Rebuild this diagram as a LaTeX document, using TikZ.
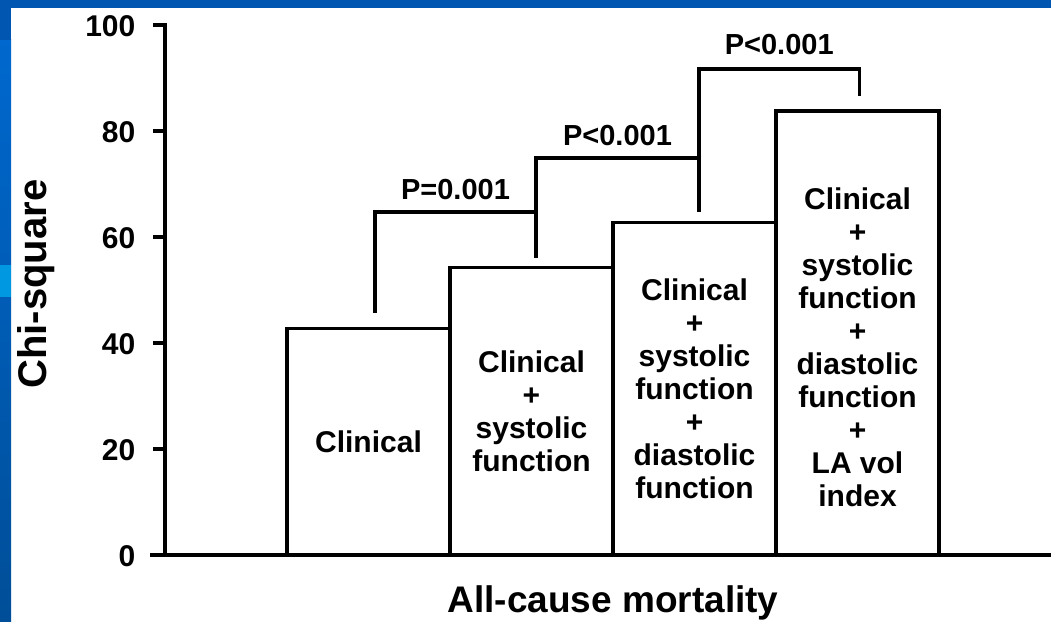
\documentclass[tikz,border=0pt]{standalone}
\usepackage{fontspec}
\setmainfont{Liberation Sans}

\definecolor{slideblue}{RGB}{0,86,176}
\definecolor{leftblue}{RGB}{0,104,206}
\definecolor{leftbluedark}{RGB}{0,78,152}
\definecolor{stripeblue}{RGB}{0,152,224}

\begin{document}
\begin{tikzpicture}[x=1pt,y=1pt,
    barbox/.style={draw, line width=3.3pt, minimum width=163pt, inner sep=0pt,
      outer sep=0pt, anchor=south west, align=center,
      font=\fontsize{30}{33}\selectfont\bfseries},
    bartext/.style={align=center, font=\fontsize{30}{33}\selectfont\bfseries},
    bracket/.style={line width=3.3pt},
    pval/.style={anchor=base, yshift=12.5pt, inner sep=0pt,
      font=\fontsize{29}{30}\selectfont\bfseries}]
    % slide frame
    \useasboundingbox (0,0) rectangle (1051,621);
    \fill [white] (0,0) rectangle (1051,621);
    \shade [top color=leftblue, bottom color=leftbluedark] (0,0) rectangle (11,581);
    \fill [slideblue] (0,581) rectangle (11,621);
    \fill [stripeblue] (0,324) rectangle (11,356);
    \fill [slideblue] (0,613) rectangle (1051,621);
    \begin{scope}[shift={(165,66)},y=5.3pt]
    % axes
    \begin{scope}[line width=3.3pt,font=\fontsize{30}{30}\selectfont\bfseries]
    \draw (-12,100) -| (0,0);
    \draw (-15,0) -- (886,0);
    \foreach \v in {20,40,...,80}{
        \draw (-12,\v) -- (0,\v);
    }
    \foreach \v in {0,20,...,100}{
        \node [anchor=east,inner sep=0pt] (l\v) at (-28,\v-0.2) {\v};
    }
    \end{scope}
    \node [rotate=90,anchor=base,font=\fontsize{40}{40}\selectfont\bfseries]
        (ylab) at (-119,51.1) {Chi-square};
    \node [anchor=base,font=\fontsize{37}{37}\selectfont\bfseries]
        (xlab) at (448,-10.9) {All-cause mortality};
    % bars
    \node [barbox,minimum height=42.8*5.3pt] (b1) at (122,0) {Clinical};
    \node [barbox,minimum height=54.2*5.3pt] (b2) at (285,0)
        {Clinical\\+\\systolic\\function};
    \node [barbox,minimum height=62.7*5.3pt] (b3) at (448,0)
        {Clinical\\+\\systolic\\function\\+\\diastolic\\function};
    \node [barbox,minimum height=83.8*5.3pt] (b4) at (611,0) {};
    \node [bartext] (b4t) at ([yshift=-14pt]b4.center)
        {Clinical\\+\\systolic\\function\\+\\diastolic\\function\\+\\LA vol\\index};
    % brackets
    \coordinate (t1) at ([shift={(6.5pt,15pt)}]b1.north);
    \coordinate (t2) at ([shift={(4.5pt,10pt)}]b2.north);
    \coordinate (t3) at ([shift={(4.5pt,11pt)}]b3.north);
    \coordinate (t4) at ([shift={(2pt,15pt)}]b4.north);
    \coordinate (h1) at (0,64.7);
    \coordinate (h2) at (0,74.9);
    \coordinate (h3) at (0,91.7);
    \draw [bracket] (t1) |- (t2 |- h1) node [pval,pos=.75] (p1) {P=0.001};
    \draw [bracket] (t2) |- (t3 |- h2) node [pval,pos=.75] (p2) {P<0.001};
    \draw [bracket] (t3) |- (t4 |- h3) node [pval,pos=.75,yshift=1.5pt] (p3) {P<0.001}
        -- (t4);
    \end{scope}
\end{tikzpicture}
\end{document}
